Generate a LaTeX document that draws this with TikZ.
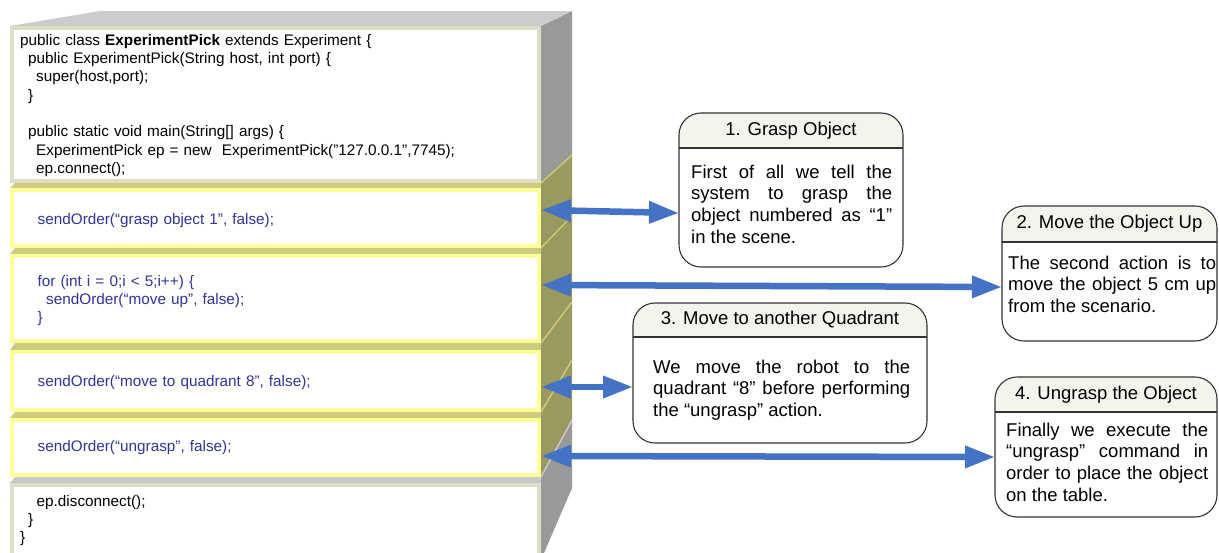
\documentclass[tikz,border=0pt]{standalone}
\usepackage{fontspec}
\setmainfont{Liberation Sans}
\usetikzlibrary{arrows.meta,calc}

\definecolor{topgray}{HTML}{CCCCCC}
\definecolor{sidegray}{HTML}{999999}
\definecolor{sideolive}{HTML}{999960}
\definecolor{oliveline}{HTML}{CCCC77}
\definecolor{stripolive}{HTML}{CCCC7A}
\definecolor{stripgray}{HTML}{C8C8C8}
\definecolor{yellowrim}{HTML}{FFFF99}
\definecolor{beigerim}{HTML}{DDDDC8}
\definecolor{codeblue}{HTML}{333399}
\definecolor{arrowblue}{HTML}{4472C4}
\definecolor{headfill}{HTML}{F4F4EC}
\definecolor{noteline}{HTML}{333333}

\newcommand\codefont{\fontsize{15.3}{18.3}\selectfont}
\newcommand\notefont{\fontsize{18.5}{21.7}\selectfont}
% a fully justified line of a callout text
\newcommand\jl[1]{\makebox[\notewd][s]{#1}}

\tikzset{
  segbox/.style={rectangle, line width=4pt, fill=white, minimum width=527pt,
    inner sep=0pt, outer sep=2pt, anchor=north west},
  codetext/.style={anchor=north west, inner sep=0pt, text width=500pt,
    align=left, font=\codefont},
  orders/.style={codetext, text=codeblue},
  notebox/.style={rectangle, anchor=north west, fill=white, inner sep=0pt,
    outer sep=0pt},
  noteline/.style={draw=noteline, line width=1.1pt},
  notetitle/.style={inner sep=0pt, font=\notefont},
  notebody/.style={anchor=north west, inner sep=0pt, align=justify,
    font=\notefont, text width=#1,
    execute at begin node={\def\notewd{#1}}},
  sideline/.style={draw=oliveline, line width=1.4pt},
  link/.style={draw=arrowblue, line width=6.5pt,
    {Triangle[length=30pt,width=21pt]}-{Triangle[length=30pt,width=21pt]}},
}

% callout: name, left, top, right, bottom, header line, title
\newcommand\notecard[7]{%
  \node[notebox, minimum width={#4-#2}, minimum height={#5-#3}] (#1) at (#2,#3) {};
  \begin{scope}
    \clip[rounded corners=22pt] (#1.north west) rectangle (#1.south east);
    \fill[headfill] (#1.north west) rectangle (#4,#6);
  \end{scope}
  \draw[noteline, rounded corners=22pt] (#1.north west) rectangle (#1.south east);
  \draw[noteline] (#2,#6) -- (#4,#6);
  \node[notetitle] (#1-title) at ({(#2+#4)/2},{(#3+#6)/2}) {#7};
}

\begin{document}
\begin{tikzpicture}[x=1pt,y=-1pt]
\useasboundingbox (0,0) rectangle (1219,552);
\fill[white] (0,0) rectangle (1219,552);

% ---- the stacked code block: side and top faces ----
\fill[sidegray] (541,26) -- (572,11) -- (572,155) -- (541,183) -- cycle;
\fill[sideolive] (541,183) -- (572,155) -- (572,420) -- (541,477) -- cycle;
\fill[sidegray] (541,477) -- (572,420) -- (572,488) -- (541,560) -- cycle;
\draw[sideline] (541,183) -- (572,155);
\draw[sideline] (541,248) -- (572,216);
\draw[sideline] (541,343) -- (572,302);
\draw[sideline] (541,412) -- (572,360);
\draw[draw=topgray, line width=1.4pt] (541,477) -- (572,420);
\fill[topgray] (10,26) -- (100,11) -- (572,11) -- (541,26) -- cycle;

% thin ledges between the slices
\fill[stripolive] (10,188) -- (15,183) -- (541,183) -- (541,188) -- cycle;
\fill[stripolive] (10,254) -- (15,248) -- (541,248) -- (541,254) -- cycle;
\fill[stripolive] (10,350) -- (15,343) -- (541,343) -- (541,350) -- cycle;
\fill[stripolive] (10,418) -- (15,412) -- (541,412) -- (541,418) -- cycle;
\fill[stripgray] (10,483) -- (15,477) -- (541,477) -- (541,483) -- cycle;

% ---- front faces ----
\node[segbox, draw=beigerim, minimum height=153pt] (head) at (10,26) {};
\node[segbox, draw=yellowrim, minimum height=56pt] (grasp) at (10,188) {};
\node[segbox, draw=yellowrim, minimum height=85pt] (loop) at (10,254) {};
\node[segbox, draw=yellowrim, minimum height=58pt] (quad) at (10,350) {};
\node[segbox, draw=yellowrim, minimum height=55pt] (ungrasp) at (10,418) {};
\node[segbox, draw=beigerim, minimum height=73pt] (tail) at (10,483) {};

% ---- code ----
\node[codetext] (headcode) at (20,32.2) {\strut public class \textbf{ExperimentPick} extends Experiment \{\\
\hspace*{8pt}public ExperimentPick(String host, int port) \{\\
\hspace*{16pt}super(host,port);\\
\hspace*{8pt}\}\\
\mbox{}\\
\hspace*{8pt}public static void main(String[] args) \{\\
\hspace*{16pt}ExperimentPick ep = new~ ExperimentPick("127.0.0.1",7745);\\
\hspace*{16pt}ep.connect();};
\node[orders] (graspcode) at (37.5,211.2) {\strut sendOrder(“grasp object 1”, false);};
\node[orders] (loopcode) at (37.5,273.2) {\strut for (int i = 0;i < 5;i++) \{\\
\hspace*{8.5pt}sendOrder(“move up”, false);\\
\}};
\node[orders] (quadcode) at (37.5,373.2) {\strut sendOrder(“move to quadrant 8”, false);};
\node[orders] (ungraspcode) at (37.5,438.2) {\strut sendOrder(“ungrasp”, false);};
\node[codetext] (tailcode) at (20,493.2) {\strut \hspace*{16.5pt}ep.disconnect();\\
\hspace*{8pt}\}\\
\}};

% ---- callouts ----
\notecard{n1}{679}{113}{903}{267}{148}{1. Grasp Object}
\notecard{n2}{1002}{206}{1217}{341}{242}{2. Move the Object Up}
\notecard{n3}{633}{303}{927}{443}{337}{3. Move to another Quadrant}
\notecard{n4}{995}{377}{1217}{517}{412}{4. Ungrasp the Object}

\node[notebody=201pt] (n1-body) at (691,162.8)
  {\strut\jl{First of all we tell the}\\\jl{system to grasp the}\\\jl{object numbered as “1”}\\in the scene.};
\node[notebody=208pt] (n2-body) at (1008,253.8)
  {\strut\jl{The second action is to}\\\jl{move the object 5 cm up}\\from the scenario.};
\node[notebody=257pt] (n3-body) at (653,357.8)
  {\strut\jl{We move the robot to the}\\\jl{quadrant “8” before performing}\\the “ungrasp” action.};
\node[notebody=202pt] (n4-body) at (1006,420.8)
  {\strut\jl{Finally we execute the}\\\jl{“ungrasp” command in}\\\jl{order to place the object}\\on the table.};

% ---- links from the orders to their explanations ----
\coordinate (y1) at (0,213);
\coordinate (y2) at (0,287);
\coordinate (y3) at (0,387);
\coordinate (y4) at (0,457);
\coordinate (g1) at (541,210);
\coordinate (g2) at (541,285);
\coordinate (g3) at (541,387);
\coordinate (g4) at (541,456);
\draw[link] (g1) -- (n1.west |- y1);
\draw[link] (g2) -- (n2.west |- y2);
\draw[link] (g3) -- (n3.west |- y3);
\draw[link] (g4) -- (n4.west |- y4);
\end{tikzpicture}
\end{document}
